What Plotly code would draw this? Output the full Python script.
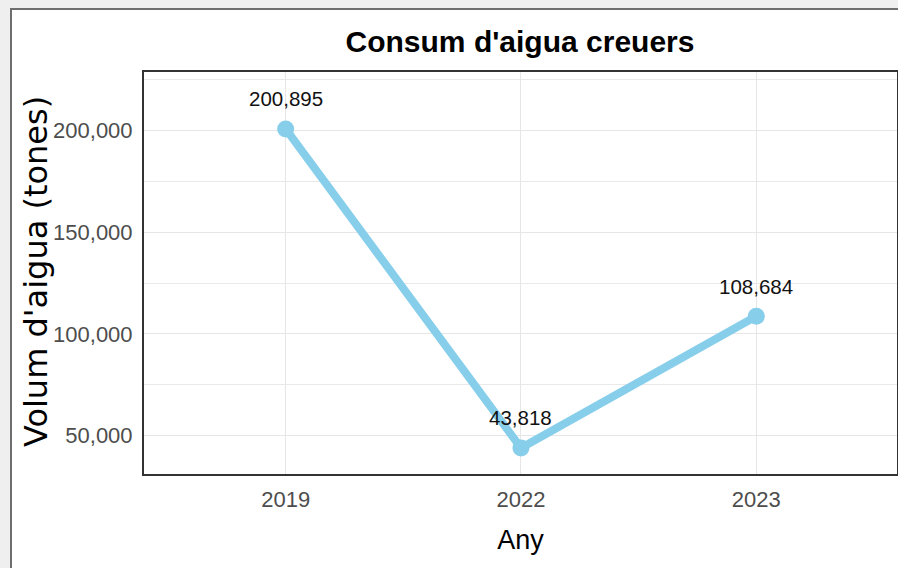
import plotly.graph_objects as go

years = ["2019", "2022", "2023"]
volumes = [200895, 43818, 108684]
labels = ["200,895", "43,818", "108,684"]
y_ticks = [50000, 100000, 150000, 200000]
y_tick_labels = ["50,000", "100,000", "150,000", "200,000"]
y_minor = [75000, 125000, 175000, 225000]

FONT = "Liberation Sans, Arial, sans-serif"
WIDE = "DejaVu Sans, Verdana, sans-serif"

W, H = 898, 568
# panel edges in window pixels
PL, PR, PT, PB = 144, 897, 72, 474
L, R, T, B = PL, W - PR, PT, H - PB
pw, ph = W - L - R, H - T - B

def px_x(p):
    return (p - L) / pw

def px_y(p):
    return (PB - p) / ph

fig = go.Figure()
fig.add_trace(go.Scatter(
    x=years, y=volumes, mode="lines+markers",
    line=dict(color="#87CEEB", width=8),
    marker=dict(color="#87CEEB", size=17),
    cliponaxis=False, hoverinfo="skip",
))
for i, (v, lab) in enumerate(zip(volumes, labels)):
    fig.add_annotation(x=i, y=v, xref="x", yref="y", text=lab, showarrow=False,
                       yshift=30, yanchor="middle", xanchor="center",
                       font=dict(family=FONT, size=20.5, color="#111111"))

fig.add_annotation(x=px_x(36), y=px_y(272), xref="paper", yref="paper",
                   text="Volum d'aigua (tones)", textangle=-90, showarrow=False,
                   xanchor="center", yanchor="middle",
                   font=dict(family=WIDE, size=32, color="#000000"))

fig.update_layout(
    width=W, height=H,
    margin=dict(l=L, r=R, t=T, b=B, autoexpand=False),
    paper_bgcolor="#EFEFEF",
    plot_bgcolor="#F0F0F0",
    showlegend=False,
    title=dict(text="<b>Consum d'aigua creuers</b>", x=px_x(520), xref="paper",
               xanchor="center", y=1 - 41 / H, yanchor="middle",
               font=dict(family=FONT, size=30, color="#000000")),
    shapes=[dict(type="rect", xref="paper", yref="paper", layer="below",
                 x0=px_x(11), x1=px_x(920), y0=px_y(590), y1=px_y(9),
                 fillcolor="#FFFFFF", line=dict(color="#6E6E6E", width=2))],
)
fig.update_xaxes(
    type="category", range=[-0.602, 2.598],
    showgrid=True, gridcolor="#E6E6E6", gridwidth=1,
    showline=True, linecolor="#333333", linewidth=2, mirror=True,
    ticks="outside", ticklen=5, tickcolor="#FFFFFF",
    tickfont=dict(family=FONT, size=22, color="#4D4D4D"),
    title=dict(text="Any", font=dict(family=FONT, size=27, color="#000000"), standoff=19),
    zeroline=False, automargin=False,
)
fig.update_yaxes(
    range=[31000, 228900],
    tickvals=y_ticks, ticktext=y_tick_labels,
    showgrid=True, gridcolor="#E6E6E6", gridwidth=1,
    minor=dict(tickvals=y_minor, showgrid=True, gridcolor="#E9E9E9", gridwidth=1),
    showline=True, linecolor="#333333", linewidth=2, mirror=True,
    ticks="outside", ticklen=5, tickcolor="#FFFFFF",
    tickfont=dict(family=FONT, size=22, color="#4D4D4D"),
    zeroline=False, automargin=False,
)

fig.write_html("out.html",
               config={"displayModeBar": False},
               post_script="document.body.style.margin='0';document.body.style.overflow='hidden';")
